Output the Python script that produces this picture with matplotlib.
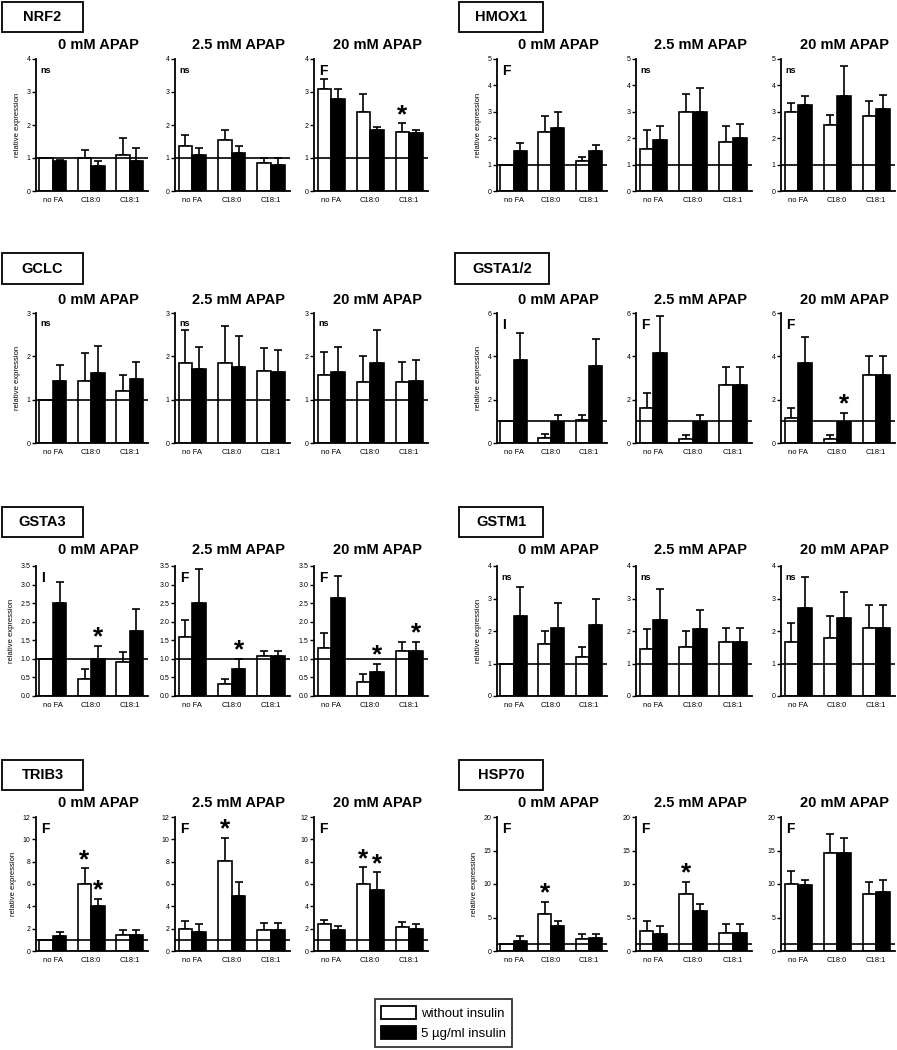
import matplotlib
matplotlib.use("Agg")
import matplotlib.pyplot as plt
from matplotlib.patches import Rectangle, Patch
import numpy as np

plt.rcParams['font.family'] = ['Liberation Sans', 'DejaVu Sans']

# ---------------- data ----------------
categories = ["no FA", "C18:0", "C18:1"]
apap = ["0 mM APAP", "2.5 mM APAP", "20 mM APAP"]
series = ["without insulin", "5 µg/ml insulin"]

# each array: 3 panels (0, 2.5, 20 mM APAP) x 3 categories
NRF2_without = [[1.0, 1.0, 1.1], [1.35, 1.55, 0.85], [3.1, 2.4, 1.8]]
NRF2_without_sem = [[0, 0.25, 0.5], [0.35, 0.3, 0.15], [0.3, 0.55, 0.25]]
NRF2_with = [[0.92, 0.75, 0.9], [1.1, 1.15, 0.8], [2.8, 1.85, 1.75]]
NRF2_with_sem = [[0.03, 0.15, 0.4], [0.2, 0.2, 0.2], [0.3, 0.1, 0.1]]
NRF2_stats = ["ns", "ns", "F"]
NRF2_stars = [(2, 2, 0)]  # (panel, category, series)

HMOX1_without = [[1.0, 2.25, 1.15], [1.6, 3.0, 1.85], [3.0, 2.5, 2.85]]
HMOX1_without_sem = [[0, 0.6, 0.12], [0.7, 0.68, 0.6], [0.35, 0.37, 0.55]]
HMOX1_with = [[1.5, 2.4, 1.5], [1.95, 3.0, 2.0], [3.25, 3.6, 3.1]]
HMOX1_with_sem = [[0.3, 0.6, 0.25], [0.5, 0.92, 0.55], [0.35, 1.15, 0.55]]
HMOX1_stats = ["F", "ns", "ns"]
HMOX1_stars = []

GCLC_without = [[1.0, 1.42, 1.2], [1.85, 1.85, 1.67], [1.58, 1.4, 1.4]]
GCLC_without_sem = [[0, 0.65, 0.38], [0.75, 0.85, 0.52], [0.52, 0.6, 0.48]]
GCLC_with = [[1.42, 1.62, 1.47], [1.7, 1.75, 1.63], [1.65, 1.85, 1.43]]
GCLC_with_sem = [[0.38, 0.63, 0.41], [0.52, 0.73, 0.52], [0.57, 0.75, 0.49]]
GCLC_stats = ["ns", "ns", "ns"]
GCLC_stars = []

GSTA12_without = [[1.0, 0.25, 1.05], [1.6, 0.2, 2.7], [1.15, 0.2, 3.15]]
GSTA12_without_sem = [[0, 0.15, 0.25], [0.7, 0.15, 0.8], [0.45, 0.15, 0.85]]
GSTA12_with = [[3.85, 0.95, 3.55], [4.15, 0.95, 2.7], [3.7, 0.95, 3.15]]
GSTA12_with_sem = [[1.25, 0.35, 1.25], [1.7, 0.35, 0.8], [1.2, 0.45, 0.85]]
GSTA12_stats = ["I", "F", "F"]
GSTA12_stars = [(2, 1, 1)]

GSTA3_without = [[1.0, 0.47, 0.92], [1.58, 0.32, 1.08], [1.3, 0.37, 1.22]]
GSTA3_without_sem = [[0, 0.26, 0.26], [0.47, 0.13, 0.13], [0.4, 0.21, 0.23]]
GSTA3_with = [[2.5, 1.0, 1.75], [2.5, 0.73, 1.08], [2.63, 0.65, 1.22]]
GSTA3_with_sem = [[0.56, 0.35, 0.6], [0.92, 0.27, 0.13], [0.6, 0.22, 0.23]]
GSTA3_stats = ["I", "F", "F"]
GSTA3_stars = [(0, 1, 1), (1, 1, 1), (2, 1, 1), (2, 2, 1)]

GSTM1_without = [[1.0, 1.6, 1.2], [1.45, 1.5, 1.65], [1.65, 1.8, 2.1]]
GSTM1_without_sem = [[0, 0.4, 0.3], [0.6, 0.5, 0.45], [0.6, 0.65, 0.7]]
GSTM1_with = [[2.45, 2.1, 2.2], [2.35, 2.05, 1.65], [2.7, 2.4, 2.1]]
GSTM1_with_sem = [[0.9, 0.75, 0.8], [0.95, 0.6, 0.45], [0.95, 0.8, 0.7]]
GSTM1_stats = ["ns", "ns", "ns"]
GSTM1_stars = []

TRIB3_without = [[1.0, 6.0, 1.45], [2.0, 8.1, 1.85], [2.45, 6.0, 2.15]]
TRIB3_without_sem = [[0, 1.4, 0.4], [0.7, 2.05, 0.7], [0.3, 1.5, 0.45]]
TRIB3_with = [[1.3, 4.0, 1.45], [1.7, 4.9, 1.85], [1.85, 5.45, 2.0]]
TRIB3_with_sem = [[0.4, 0.7, 0.4], [0.75, 1.25, 0.7], [0.42, 1.6, 0.45]]
TRIB3_stats = ["F", "F", "F"]
TRIB3_stars = [(0, 1, 0), (0, 1, 1), (1, 1, 0), (2, 1, 0), (2, 1, 1)]

HSP70_without = [[1.0, 5.5, 1.8], [3.0, 8.5, 2.7], [10.0, 14.7, 8.5]]
HSP70_without_sem = [[0, 1.8, 0.7], [1.5, 1.8, 1.3], [2.0, 2.8, 1.8]]
HSP70_with = [[1.5, 3.8, 2.0], [2.5, 6.0, 2.7], [9.8, 14.7, 8.8]]
HSP70_with_sem = [[0.75, 0.7, 0.5], [1.2, 1.0, 1.3], [0.75, 2.1, 1.75]]
HSP70_stats = ["F", "F", "F"]
HSP70_stars = [(0, 1, 0), (1, 1, 0)]

gene_names = ["NRF2", "HMOX1", "GCLC", "GSTA1/2", "GSTA3", "GSTM1", "TRIB3", "HSP70"]
gene_yticks = [[0, 1, 2, 3, 4], [0, 1, 2, 3, 4, 5], [0, 1, 2, 3], [0, 2, 4, 6],
               [0.0, 0.5, 1.0, 1.5, 2.0, 2.5, 3.0, 3.5], [0, 1, 2, 3, 4],
               [0, 2, 4, 6, 8, 10, 12], [0, 5, 10, 15, 20]]
gene_tickfmt = ["%d", "%d", "%d", "%d", "%.1f", "%d", "%d", "%d"]

gene_data = [
    (NRF2_without, NRF2_without_sem, NRF2_with, NRF2_with_sem, NRF2_stats, NRF2_stars),
    (HMOX1_without, HMOX1_without_sem, HMOX1_with, HMOX1_with_sem, HMOX1_stats, HMOX1_stars),
    (GCLC_without, GCLC_without_sem, GCLC_with, GCLC_with_sem, GCLC_stats, GCLC_stars),
    (GSTA12_without, GSTA12_without_sem, GSTA12_with, GSTA12_with_sem, GSTA12_stats, GSTA12_stars),
    (GSTA3_without, GSTA3_without_sem, GSTA3_with, GSTA3_with_sem, GSTA3_stats, GSTA3_stars),
    (GSTM1_without, GSTM1_without_sem, GSTM1_with, GSTM1_with_sem, GSTM1_stats, GSTM1_stars),
    (TRIB3_without, TRIB3_without_sem, TRIB3_with, TRIB3_with_sem, TRIB3_stats, TRIB3_stars),
    (HSP70_without, HSP70_without_sem, HSP70_with, HSP70_with_sem, HSP70_stats, HSP70_stars),
]

# ---------------- layout ----------------
W, H = 897, 1050
fig = plt.figure(figsize=(W / 100, H / 100), dpi=100)

row_top = [59, 313, 566, 817]
row_bot = [191, 443, 696, 951]
title_y = [45, 300, 550, 803]
col_x = [[(36, 148), (175, 290), (314, 428)],
         [(497, 607), (636, 752), (781, 895)]]
box_x = [(2, 83), (459, 543)]
box_x_gsta12 = (455, 549)
box_y = [(2, 32), (253, 284), (507, 537), (760, 790)]

LW = 1.2
BW = 0.35


def fx(x):
    return x / W


def fy(y):
    return 1 - y / H


def draw_gene(gi):
    name = gene_names[gi]
    col = gi % 2
    row = gi // 2
    wo, wo_sem, wi, wi_sem, stats, stars = gene_data[gi]
    yt = gene_yticks[gi]
    ymax = yt[-1]

    # gene name box
    bx = box_x_gsta12 if name == "GSTA1/2" else box_x[col]
    by = box_y[row]
    fig.patches.append(Rectangle((fx(bx[0]), fy(by[1])), (bx[1] - bx[0]) / W,
                                 (by[1] - by[0]) / H, transform=fig.transFigure,
                                 facecolor="white", edgecolor="black", lw=1.3))
    fig.text(fx((bx[0] + bx[1]) / 2), fy((by[0] + by[1]) / 2), name,
             ha="center", va="center", fontsize=10.5, fontweight="bold")

    for p in range(3):
        x0, x1 = col_x[col][p]
        ax = fig.add_axes([fx(x0), fy(row_bot[row]), (x1 - x0) / W,
                           (row_bot[row] - row_top[row]) / H])
        x = np.arange(len(categories))
        ax.bar(x - BW / 2, wo[p], width=BW, color="white", edgecolor="black",
               lw=LW, zorder=2)
        ax.bar(x + BW / 2, wi[p], width=BW, color="black", edgecolor="black",
               lw=LW, zorder=2)
        for s, (vals, sems) in enumerate([(wo[p], wo_sem[p]), (wi[p], wi_sem[p])]):
            for c in range(3):
                if sems[c] > 0:
                    xc = c - BW / 2 + s * BW
                    ax.errorbar(xc, vals[c], yerr=[[0], [sems[c]]], fmt="none",
                                ecolor="black", elinewidth=LW, capsize=3,
                                capthick=LW, zorder=1, clip_on=False)
        ax.axhline(1, color="black", lw=LW, zorder=3)
        for (sp, sc, ss) in stars:
            if sp == p:
                vals = wo[p] if ss == 0 else wi[p]
                sems = wo_sem[p] if ss == 0 else wi_sem[p]
                ax.annotate("*", (sc - BW / 2 + ss * BW, vals[sc] + sems[sc]),
                            xytext=(0, 1), textcoords="offset points",
                            ha="center", va="baseline", fontsize=19,
                            fontweight="bold")
        ax.set_xlim(-0.44, 2.48)
        ax.set_ylim(0, ymax)
        ax.set_yticks(yt)
        ax.set_yticklabels([gene_tickfmt[gi] % v for v in yt])
        ax.set_xticks(x)
        ax.set_xticklabels(categories)
        ax.tick_params(axis="x", length=0, labelsize=5.5, pad=4)
        ax.tick_params(axis="y", length=3, width=1, labelsize=5, pad=1)
        for sp in ["top", "right"]:
            ax.spines[sp].set_visible(False)
        for sp in ["left", "bottom"]:
            ax.spines[sp].set_linewidth(1.3)
        ax.patch.set_alpha(0)
        st = stats[p]
        if st == "ns":
            ax.text(0.04, 0.95, st, transform=ax.transAxes, ha="left", va="top",
                    fontsize=6.5, fontweight="bold")
        else:
            ax.text(0.045, 0.96, st, transform=ax.transAxes, ha="left", va="top",
                    fontsize=10, fontweight="bold")
        if p == 0:
            ax.set_ylabel("relative expression", fontsize=5.5, labelpad=4)
        fig.text(fx((x0 + x1) / 2 + 6), fy(title_y[row]), apap[p],
                 ha="center", va="center", fontsize=10.5, fontweight="bold")


for gi in range(len(gene_names)):
    draw_gene(gi)

handles = [Patch(facecolor="white", edgecolor="black", lw=1.3, label=series[0]),
           Patch(facecolor="black", edgecolor="black", lw=1.3, label=series[1])]
leg = fig.legend(handles=handles, loc="center",
                 bbox_to_anchor=(fx(443.5), fy(1023)), fontsize=9.5,
                 frameon=True, fancybox=False, edgecolor="black",
                 handlelength=2.6, handleheight=1.1, borderpad=0.5,
                 labelspacing=0.5, handletextpad=0.4)
leg.get_frame().set_linewidth(1.3)

fig.savefig("out.png", dpi=100)
